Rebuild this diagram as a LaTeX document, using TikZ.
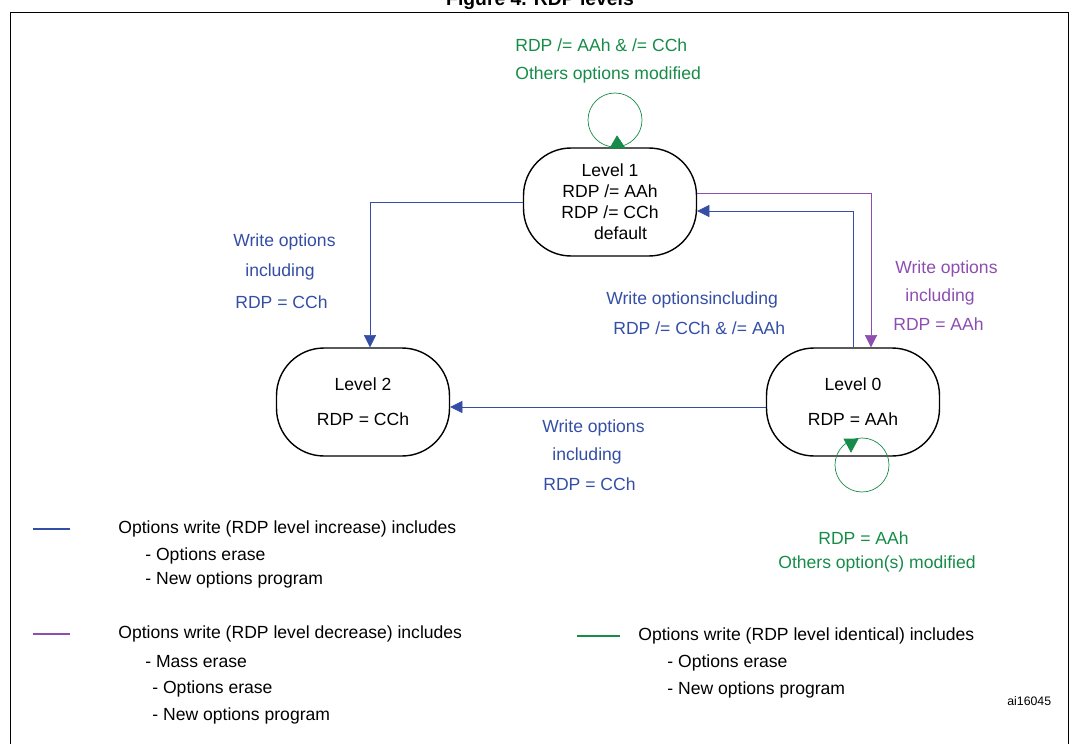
\documentclass[tikz,border=0pt]{standalone}
\usepackage{fontspec}
\setmainfont{Liberation Sans}
\usetikzlibrary{arrows.meta}
\definecolor{rdpblue}{RGB}{52,78,166}
\definecolor{rdppurple}{RGB}{140,78,176}
\definecolor{rdpgreen}{RGB}{22,140,72}
\begin{document}
\begin{tikzpicture}[x=0.02cm,y=-0.02cm,font=\fontsize{10}{12}\selectfont,
    level/.style={draw,thick,rounded corners=0.95cm,minimum width=3.46cm,minimum height=2.16cm,align=center,inner sep=0pt},
    tip/.style={-{Triangle[length=7pt,width=7pt]}},
    lbl/.style={align=left,inner sep=0pt,anchor=west}]
\useasboundingbox (0,0) rectangle (1077,743);
\node[font=\bfseries\fontsize{11}{12}\selectfont] (title) at (540,1) {Figure 4. RDP levels};
\draw (10,12) -- (1068,12) -- (1068,745) (10,12) -- (10,745);
% states
\node[level] (l1) at (610,202) {Level 1\\RDP /= AAh\\RDP /= CCh\\\hspace{1.2em}default};
\node[level] (l2) at (363,402) {Level 2\\[8pt]RDP = CCh};
\node[level] (l0) at (853,402) {Level 0\\[8pt]RDP = AAh};
% transitions
\draw[rdpblue,tip] (l1.west) -| ([shift={(7,0)}]l2.north);
\draw[rdppurple,tip] ([shift={(0,-9)}]l1.east) -| ([shift={(18,0)}]l0.north);
\draw[rdpblue,tip] (l0.north) |- ([shift={(0,9)}]l1.east);
\draw[rdpblue,tip] ([shift={(0,5)}]l0.west) -- ([shift={(0,5)}]l2.east);
% loops
\draw[rdpgreen] (615,120) circle (27);
\draw[rdpgreen,fill=rdpgreen] (617,136) -- (610,148) -- (625,148) -- cycle;
\draw[rdpgreen] (862,465) circle (27);
\draw[rdpgreen,fill=rdpgreen] (851,452) -- (844,439) -- (858,439) -- cycle;
% labels
\node[rdpgreen,lbl] (g1) at (515,45) {RDP /= AAh \& /= CCh};
\node[rdpgreen,lbl] (g2) at (515,75) {Others options modified};
\node[rdpblue,lbl] (b1) at (233,242) {Write options};
\node[rdpblue,lbl] (b2) at (245,272) {including};
\node[rdpblue,lbl] (b3) at (235,302) {RDP = CCh};
\node[rdpblue,lbl] (m1) at (606,300) {Write optionsincluding};
\node[rdpblue,lbl] (m2) at (613,328) {RDP /= CCh \& /= AAh};
\node[rdppurple,lbl] (p1) at (895,269) {Write options};
\node[rdppurple,lbl] (p2) at (905,297) {including};
\node[rdppurple,lbl] (p3) at (893,324) {RDP = AAh};
\node[rdpblue,lbl] (w1) at (542,428) {Write options};
\node[rdpblue,lbl] (w2) at (552,456) {including};
\node[rdpblue,lbl] (w3) at (543,484) {RDP = CCh};
\node[rdpgreen,lbl] (e1) at (818,538) {RDP = AAh};
\node[rdpgreen,lbl] (e2) at (778,564) {Others option(s) modified};
% legend
\draw[rdpblue,thick] (33,529) -- (70,529);
\node[lbl] (k1) at (118,529) {Options write (RDP level increase) includes};
\node[lbl] at (145,556) {- Options erase};
\node[lbl] at (145,580) {- New options program};
\draw[rdppurple,thick] (33,634) -- (70,634);
\node[lbl] (k2) at (118,634) {Options write (RDP level decrease) includes};
\node[lbl] at (145,662) {- Mass erase};
\node[lbl] at (152,689) {- Options erase};
\node[lbl] at (152,716) {- New options program};
\draw[rdpgreen,thick] (577,636) -- (620,636);
\node[lbl] (k3) at (638,636) {Options write (RDP level identical) includes};
\node[lbl] at (667,663) {- Options erase};
\node[lbl] at (667,690) {- New options program};
\node[lbl,font=\fontsize{7}{8}\selectfont] (ref) at (1007,701) {ai16045};
\end{tikzpicture}
\end{document}
